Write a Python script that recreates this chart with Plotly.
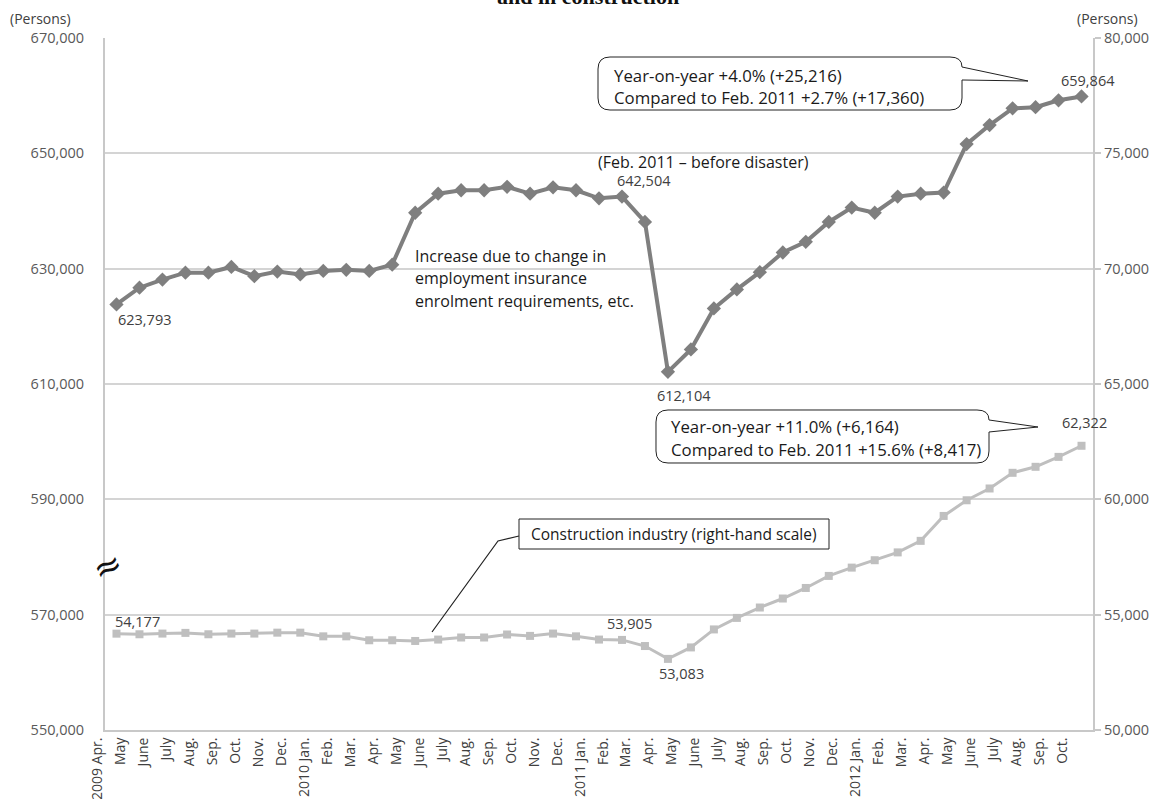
import plotly.graph_objects as go

# months shown on the category axis (2009 Apr. .. 2012 Oct.)
months = ['2009 Apr.', 'May', 'June', 'July', 'Aug.', 'Sep.', 'Oct.', 'Nov.', 'Dec.',
          '2010 Jan.', 'Feb.', 'Mar.', 'Apr.', 'May', 'June', 'July', 'Aug.', 'Sep.', 'Oct.', 'Nov.', 'Dec.',
          '2011 Jan.', 'Feb.', 'Mar.', 'Apr.', 'May', 'June', 'July', 'Aug.', 'Sep.', 'Oct.', 'Nov.', 'Dec.',
          '2012 Jan.', 'Feb.', 'Mar.', 'Apr.', 'May', 'June', 'July', 'Aug.', 'Sep.', 'Oct.']

# all industries (left-hand scale)
all_ind = [623793, 626700, 628100, 629300, 629300, 630300, 628700, 629500, 629000,
           629600, 629800, 629600, 630700, 639700, 643000, 643600, 643600, 644200, 643000, 644100, 643600,
           642200, 642504, 638100, 612104, 616000, 623100, 626400, 629400, 632800, 634648, 638100, 640600,
           639700, 642500, 643000, 643200, 651600, 654900, 657800, 658000, 659200, 659864]

# construction industry (right-hand scale)
constr = [54177, 54150, 54180, 54210, 54150, 54180, 54180, 54220, 54220,
          54060, 54060, 53890, 53890, 53860, 53920, 54010, 54010, 54140, 54080, 54180, 54060,
          53920, 53905, 53640, 53083, 53580, 54360, 54860, 55310, 55700, 56158, 56680, 57040,
          57360, 57700, 58200, 59280, 59960, 60470, 61150, 61410, 61840, 62322]

x = list(range(len(months)))

W, H = 1155, 799
L, R, T, B = 105, 1093, 38, 730
FONT = 'Open Sans'


def px(xp, yp):
    # page pixels -> paper coords
    return (xp - L) / (R - L), (B - yp) / (B - T)


def bubble(left, top, right, bottom, btop, bbot, tip, r=12):
    def p(a, b):
        u, v = px(a, b)
        return f'{u:.5f},{v:.5f}'
    path = (f'M {p(left + r, top)} L {p(right - r, top)} Q {p(right, top)} {p(right, btop)} '
            f'L {p(*tip)} L {p(right, bbot)} L {p(right, bottom - r)} Q {p(right, bottom)} {p(right - r, bottom)} '
            f'L {p(left + r, bottom)} Q {p(left, bottom)} {p(left, bottom - r)} '
            f'L {p(left, top + r)} Q {p(left, top)} {p(left + r, top)} Z')
    return dict(type='path', xref='paper', yref='paper', path=path,
                line=dict(color='#222222', width=1), fillcolor='white', layer='above')


fig = go.Figure()
fig.add_trace(go.Scatter(x=x, y=all_ind, mode='lines+markers', name='All industries',
                         line=dict(color='#7f7f7f', width=4),
                         marker=dict(symbol='diamond', size=11, color='#7f7f7f')))
fig.add_trace(go.Scatter(x=x, y=constr, mode='lines+markers', name='Construction', yaxis='y2',
                         line=dict(color='#bfbfbf', width=3),
                         marker=dict(symbol='square', size=8, color='#bfbfbf')))

ann = []
# data labels
lab = [(0, all_ind[0], 'y', 0, -15, 'left'),
       (22, all_ind[22], 'y', 22, 16, 'center'),
       (24, all_ind[24], 'y', 16, -24, 'center'),
       (42, all_ind[42], 'y', 6, 16, 'center'),
       (0, constr[0], 'y2', -3, 12, 'left'),
       (22, constr[22], 'y2', 8, 16, 'center'),
       (24, constr[24], 'y2', 14, -15, 'center'),
       (42, constr[42], 'y2', 3, 23, 'center')]
for xi, yv, yr, dx, dy, anc in lab:
    ann.append(dict(x=xi, y=yv, xref='x', yref=yr, text=f'{yv:,}', showarrow=False,
                    xshift=dx, yshift=dy, xanchor=anc, yanchor='middle',
                    font=dict(family=FONT, size=14.5, color='#404040')))


def note(xp, yp, text, size=16, anchor='left', color='#1a1a1a', family=FONT, bold=False, angle=0):
    u, v = px(xp, yp)
    ann.append(dict(x=u, y=v, xref='paper', yref='paper', text=f'<b>{text}</b>' if bold else text,
                    showarrow=False, xanchor=anchor, yanchor='middle', textangle=angle,
                    font=dict(family=family, size=size, color=color)))


note(703, 162, '(Feb. 2011 \u2013 before disaster)', anchor='center')
for i, line in enumerate(['Increase due to change in', 'employment insurance',
                          'enrolment requirements, etc.']):
    note(413, 256 + i * 22.3, line)
for i, line in enumerate(['Year-on-year +4.0% (+25,216)', 'Compared to Feb. 2011 +2.7% (+17,360)']):
    note(612, 75 + i * 22, line, size=16.8)
for i, line in enumerate(['Year-on-year +11.0% (+6,164)', 'Compared to Feb. 2011 +15.6% (+8,417)']):
    note(669, 427 + i * 22, line, size=16.8)
note(674, 534, 'Construction industry (right-hand scale)', size=15.5, anchor='center')
note(40, 19, '(Persons)', size=14, anchor='center', color='#404040')
note(1107, 19, '(Persons)', size=14, anchor='center', color='#404040')
note(588, -4, 'and in construction', size=22, anchor='center', color='#111111',
     family='Liberation Serif', bold=True)
note(107, 566, '\u2248', size=34, anchor='center', color='#111111', family='DejaVu Sans', angle=-25)

shapes = [bubble(598, 57, 962, 110, 67, 80, (1028, 81)),
          bubble(656, 410, 989, 463, 420, 432, (1038, 427))]
bx0, by0 = px(519, 519)
bx1, by1 = px(829, 549)
shapes.append(dict(type='rect', xref='paper', yref='paper', x0=bx0, y0=by0, x1=bx1, y1=by1,
                   line=dict(color='#222222', width=1), fillcolor='rgba(0,0,0,0)'))
lp = [px(519, 536), px(498, 541), px(432, 632)]
shapes.append(dict(type='path', xref='paper', yref='paper',
                   path='M ' + ' L '.join(f'{a:.5f},{b:.5f}' for a, b in lp),
                   line=dict(color='#222222', width=1.2)))

fig.update_layout(
    width=W, height=H,
    margin=dict(l=L, r=W - R, t=T, b=H - B, autoexpand=False),
    paper_bgcolor='white', plot_bgcolor='white',
    showlegend=False,
    font=dict(family=FONT, size=14, color='#595959'),
    xaxis=dict(range=[-0.5, len(months) - 0.5], tickmode='array', tickvals=x, ticktext=months,
               tickangle=-90, showgrid=False, zeroline=False, showline=True, linecolor='#c8c8c8',
               linewidth=2, ticks='', ticklabelshift=-19, automargin=False,
               tickfont=dict(size=14, color='#404040')),
    yaxis=dict(range=[550000, 670000], tick0=550000, dtick=20000, tickformat=',', showgrid=True,
               gridcolor='#d4d4d4', gridwidth=1.5, zeroline=False, showline=True,
               linecolor='#c8c8c8', linewidth=2, ticks='', ticklabelstandoff=16, automargin=False,
               tickfont=dict(size=14.5, color='#595959')),
    yaxis2=dict(range=[50000, 80000], tick0=50000, dtick=5000, tickformat=',', overlaying='y',
                side='right', showgrid=False, zeroline=False, showline=True, linecolor='#c8c8c8',
                linewidth=2, ticks='outside', ticklen=6, tickcolor='#c8c8c8', tickwidth=1.5,
                automargin=False, tickfont=dict(size=14.5, color='#595959')),
    annotations=ann,
    shapes=shapes,
)

# the page has a default body margin; drop it so the figure sits at the window origin
fig.write_html('out.html', config={'displayModeBar': False},
               post_script="document.body.style.margin='0';")
